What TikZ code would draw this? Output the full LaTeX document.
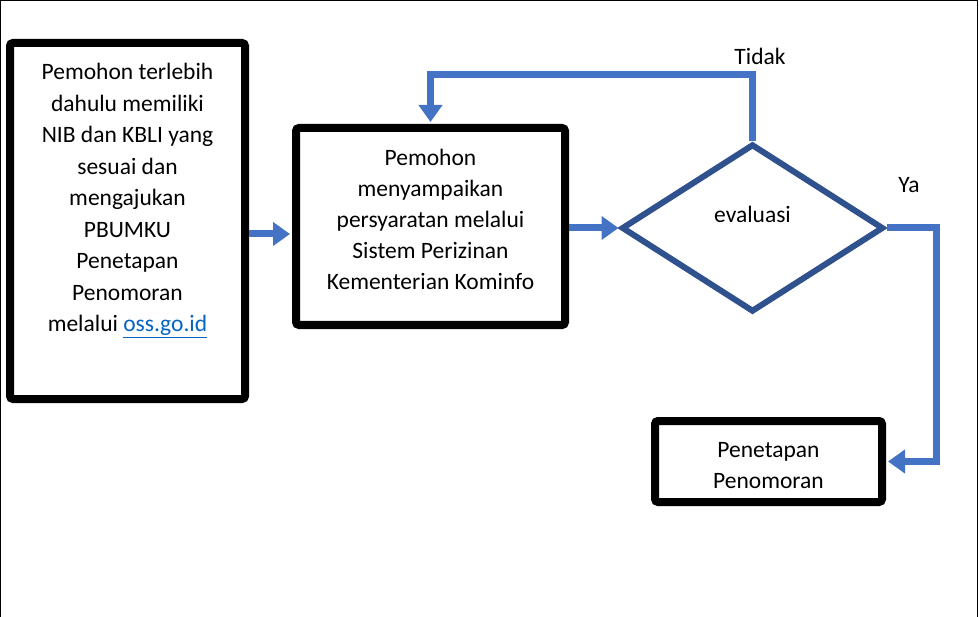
\documentclass[tikz,border=0pt]{standalone}
\usepackage{fontspec}
\setmainfont{Carlito}
\usetikzlibrary{shapes.geometric,arrows.meta,positioning}
\definecolor{flowblue}{HTML}{4472C4}
\definecolor{darkblue}{HTML}{2F528F}
\definecolor{linkblue}{HTML}{0563C1}

\begin{document}
\begin{tikzpicture}[%
    x=1pt, y=-1pt,                        % work in pixels of the page
    >={Triangle[length=17pt,width=23pt]}, % big flat arrow heads
    every node/.style={font=\fontsize{23.5}{31}\selectfont},
    ]
% -------------------------------------------------
% Box and connector styles
\tikzset{
  box/.style={draw, line width=8pt, rounded corners=3pt, inner sep=0pt},
  decision/.style={draw=darkblue, diamond, line width=6pt, inner sep=0pt},
  txt/.style={align=center, inner sep=0pt},
  flow/.style={->, draw=flowblue, line width=7pt},
}
\useasboundingbox (0,0) rectangle (979,617);
\draw[line width=1pt] (0.5,617) -- (0.5,0.5) -- (977,0.5) -- (977,617);
% -------------------------------------------------
% Boxes
\node [box, minimum width=235pt, minimum height=356pt] (b1) at (127.5,221) {};
\node [box, minimum width=269pt, minimum height=197pt] (b2) at (430.5,226.5) {};
\node [decision, minimum width=262pt, minimum height=168pt] (eval) at (752.5,228) {};
\node [box, minimum width=227pt, minimum height=81pt] (b3) at (768.5,461.5) {};

% Texts inside the boxes
\node [txt, font=\fontsize{23.5}{31.5}\selectfont, below=24pt of b1.north] (t1)
  {Pemohon terlebih\\ dahulu memiliki\\ NIB dan KBLI yang\\ sesuai dan\\
   mengajukan\\ PBUMKU\\ Penetapan\\ Penomoran\\
   melalui \textcolor{linkblue}{\underline{oss.go.id}}};
\node [txt] (t2) at ([yshift=7pt]b2.center)
  {Pemohon\\ menyampaikan\\ persyaratan melalui\\ Sistem Perizinan\\ Kementerian Kominfo};
\node [txt] (t3) at ([yshift=-4pt]b3.center) {Penetapan\\ Penomoran};
\node [txt] (t4) at ([yshift=14pt]eval.center) {evaluasi};

% -------------------------------------------------
% Connectors
\draw [flow, shorten >=2pt] ([yshift=-13pt]b1.east) -- ([yshift=-13pt]b1.east -| b2.west);
\draw [flow] (b2.east |- eval.west) -- (eval.west);
\draw [flow, shorten >=2pt] (eval.north) -- ++(0,-66) -| (b2.north);
\draw [flow, shorten >=2pt] (eval.east) -- ++(50,0) |- (b3.east);

\node (tidak) at (760,56) {Tidak};
\node (ya) at (909,185) {Ya};
% -------------------------------------------------
\end{tikzpicture}
\end{document}
